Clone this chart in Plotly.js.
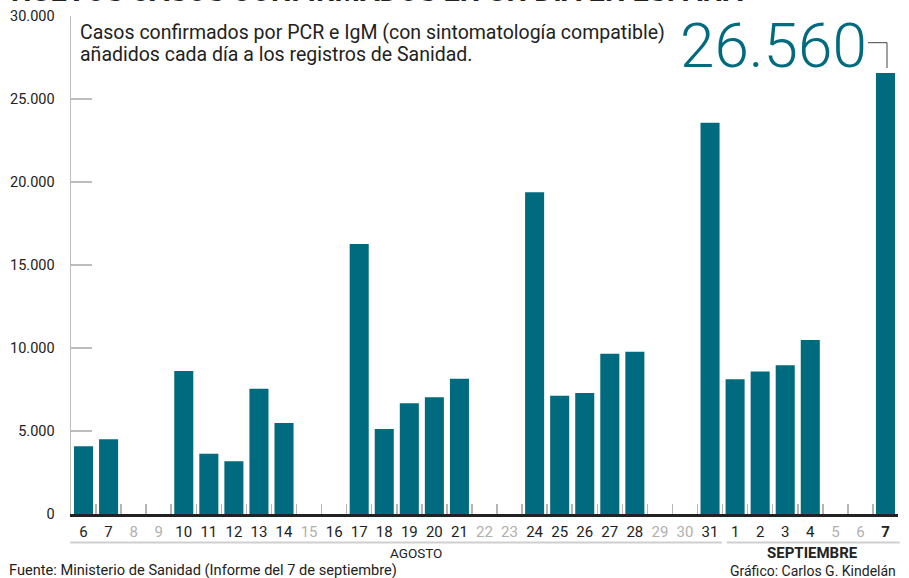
<!DOCTYPE html>
<html>
<head>
<meta charset="utf-8">
<script src="https://cdn.plot.ly/plotly-3.0.1.min.js"></script>
<style>
html,body{margin:0;padding:0;background:#fff;}
#chart{width:909px;height:578px;}
</style>
</head>
<body>
<div id="chart"></div>
<script>
// Dates (category keys), day labels, label style, and values
const dateKeys = [
  '2020-08-06','2020-08-07','2020-08-08','2020-08-09','2020-08-10','2020-08-11','2020-08-12','2020-08-13','2020-08-14',
  '2020-08-15','2020-08-16','2020-08-17','2020-08-18','2020-08-19','2020-08-20','2020-08-21','2020-08-22','2020-08-23',
  '2020-08-24','2020-08-25','2020-08-26','2020-08-27','2020-08-28','2020-08-29','2020-08-30','2020-08-31',
  '2020-09-01','2020-09-02','2020-09-03','2020-09-04','2020-09-05','2020-09-06','2020-09-07'
];
const dayLabels = ['6','7','8','9','10','11','12','13','14','15','16','17','18','19','20','21','22','23',
  '24','25','26','27','28','29','30','31','1','2','3','4','5','6','7'];
const grayDays = ['2020-08-08','2020-08-09','2020-08-15','2020-08-22','2020-08-23','2020-08-29','2020-08-30','2020-09-05','2020-09-06'];
const boldDays = ['2020-09-07'];
const cases = [4088, 4507, null, null, 8618, 3632, 3172, 7550, 5479, null, null, 16269, 5114, 6671, 7039, 8148, null, null,
  19382, 7117, 7296, 9658, 9779, null, null, 23572, 8115, 8581, 8959, 10476, null, null, 26560];
const yTicks = [0, 5000, 10000, 15000, 20000, 25000, 30000];
const yTickText = ['0', '5.000', '10.000', '15.000', '20.000', '25.000', '30.000'];
const highlightValue = '26.560';

const teal = '#006B7E';
const FONT = 'Roboto, "Noto Sans", sans-serif';

const tickText = dateKeys.map((k, i) => {
  if (grayDays.includes(k)) return '<span style="color:#b0b0b0">' + dayLabels[i] + '</span>';
  if (boldDays.includes(k)) return '<b>' + dayLabels[i] + '</b>';
  return dayLabels[i];
});

const trace = {
  type: 'bar',
  x: dateKeys,
  y: cases,
  marker: {color: teal},
  hoverinfo: 'x+y'
};

const layout = {
  width: 909, height: 578,
  margin: {l: 71, r: 11, t: 16, b: 64, pad: 0},
  paper_bgcolor: '#fff', plot_bgcolor: '#fff',
  font: {family: FONT, color: '#222', size: 14},
  showlegend: false,
  bargap: 0.24,
  xaxis: {
    type: 'category',
    categoryorder: 'array', categoryarray: dateKeys,
    tickvals: dateKeys, ticktext: tickText,
    tickson: 'boundaries',
    tickangle: 0,
    ticks: 'inside', ticklen: 10, tickcolor: '#b5b5b5', tickwidth: 1.5,
    showline: true, linecolor: '#222', linewidth: 2.5,
    showgrid: false, zeroline: false,
    tickfont: {family: FONT, size: 15, color: '#222'},
    ticklabelstandoff: 2,
    fixedrange: true
  },
  yaxis: {
    range: [0, 30000],
    tickvals: yTicks, ticktext: yTickText,
    ticks: 'inside', ticklen: 21, tickcolor: '#bdbdbd', tickwidth: 1.5,
    showline: true, linecolor: '#bdbdbd', linewidth: 1.5,
    showgrid: false, zeroline: false,
    tickfont: {family: FONT, size: 14.5, color: '#222'},
    ticklabelstandoff: 12,
    fixedrange: true
  },
  shapes: [
    // month underline bars
    {type: 'line', xref: 'paper', yref: 'paper', x0: -0.001, x1: 0.787, y0: -0.057, y1: -0.057, line: {color: '#cfcfcf', width: 2}},
    {type: 'line', xref: 'paper', yref: 'paper', x0: 0.793, x1: 1.002, y0: -0.057, y1: -0.057, line: {color: '#cfcfcf', width: 2}},
    // connector from highlight number to last bar
    {type: 'path', xref: 'paper', yref: 'paper',
     path: 'M 0.9637 0.9464 L 0.9867 0.9464 L 0.9867 0.8956', line: {color: '#444', width: 1}}
  ],
  annotations: [
    {xref: 'paper', yref: 'paper', x: -0.0745, y: 1.050, xanchor: 'left', yanchor: 'middle',
     text: '<b>NUEVOS CASOS CONFIRMADOS EN UN DÍA EN ESPAÑA</b>', showarrow: false,
     font: {family: FONT, size: 29, color: '#222'}},
    {xref: 'paper', yref: 'paper', x: 0.008, y: 0.966, xanchor: 'left', yanchor: 'middle', align: 'left',
     text: 'Casos confirmados por PCR e IgM (con sintomatología compatible)',
     showarrow: false, font: {family: FONT, size: 19.5, color: '#222'}},
    {xref: 'paper', yref: 'paper', x: 0.008, y: 0.922, xanchor: 'left', yanchor: 'middle', align: 'left',
     text: 'añadidos cada día a los registros de Sanidad.',
     showarrow: false, font: {family: FONT, size: 19.5, color: '#222'}},
    {xref: 'paper', yref: 'paper', x: 0.9645, y: 0.940, xanchor: 'right', yanchor: 'middle',
     text: highlightValue, showarrow: false,
     font: {family: FONT, size: 62, color: teal, weight: 300}},
    {xref: 'paper', yref: 'paper', x: 0.417, y: -0.079, xanchor: 'center', yanchor: 'middle',
     text: 'AGOSTO', showarrow: false, font: {family: FONT, size: 13.5, color: '#222'}},
    {xref: 'paper', yref: 'paper', x: 0.897, y: -0.078, xanchor: 'center', yanchor: 'middle',
     text: '<b>SEPTIEMBRE</b>', showarrow: false, font: {family: FONT, size: 15, color: '#222'}},
    {xref: 'paper', yref: 'paper', x: -0.077, y: -0.113, xanchor: 'left', yanchor: 'middle',
     text: 'Fuente: Ministerio de Sanidad (Informe del 7 de septiembre)', showarrow: false,
     font: {family: FONT, size: 14.6, color: '#222'}},
    {xref: 'paper', yref: 'paper', x: 1.0, y: -0.114, xanchor: 'right', yanchor: 'middle',
     text: 'Gráfico: Carlos G. Kindelán', showarrow: false,
     font: {family: FONT, size: 14, color: '#222'}}
  ]
};

Plotly.newPlot('chart', [trace], layout, {displayModeBar: false, staticPlot: true});
</script>
</body>
</html>
